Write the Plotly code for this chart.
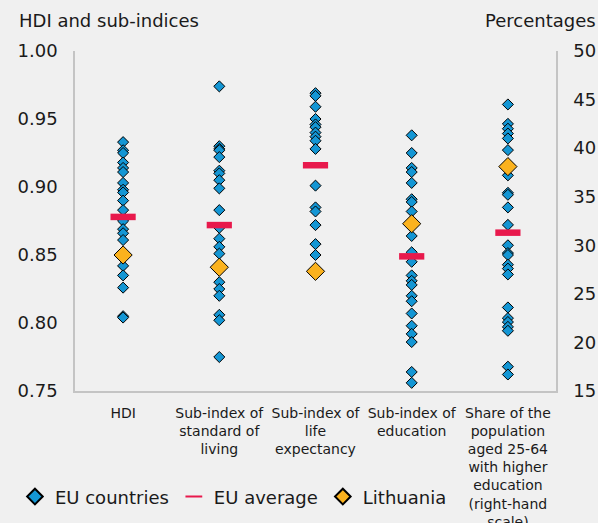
import plotly.graph_objects as go

# categories on the x axis
categories = [
    "HDI",
    "Sub-index of<br>standard of<br>living",
    "Sub-index of<br>life<br>expectancy",
    "Sub-index of<br>education",
    "Share of the<br>population<br>aged 25-64<br>with higher<br>education<br>(right-hand<br>scale)",
]

# EU countries, left-hand scale (index values)
hdi_eu = [0.933, 0.927, 0.925, 0.918, 0.914, 0.911, 0.903, 0.898, 0.896, 0.890,
          0.883, 0.875, 0.869, 0.866, 0.861, 0.850, 0.842, 0.835, 0.826, 0.805, 0.804]
living_eu = [0.974, 0.930, 0.928, 0.927, 0.922, 0.912, 0.910, 0.905, 0.899, 0.883,
             0.870, 0.862, 0.856, 0.851, 0.841, 0.830, 0.825, 0.820, 0.806, 0.802, 0.775]
life_eu = [0.969, 0.967, 0.959, 0.950, 0.946, 0.944, 0.940, 0.937, 0.934, 0.928,
           0.901, 0.885, 0.882, 0.872, 0.858, 0.850, 0.838]
education_eu = [0.938, 0.925, 0.914, 0.911, 0.903, 0.891, 0.889, 0.882, 0.873, 0.864,
                0.852, 0.845, 0.835, 0.831, 0.828, 0.820, 0.816, 0.807, 0.798, 0.792,
                0.786, 0.764, 0.756]
# EU countries, right-hand scale (percentages)
higher_edu_eu = [44.5, 42.5, 42.0, 41.5, 41.0, 39.8, 38.1, 37.2, 35.4, 35.2, 33.9, 32.1,
                 30.0, 29.2, 29.0, 28.0, 27.6, 27.0, 23.6, 22.5, 22.1, 21.6, 21.2, 17.5, 16.7]

# EU average and Lithuania
eu_avg_index = [0.878, 0.872, 0.916, 0.849]
eu_avg_share = [31.3]
lt_index = [0.850, 0.841, 0.838, 0.873]
lt_share = [38.1]

BLUE = "#1496d4"
RED = "#e8194c"
ORANGE = "#fbb21e"
FONT = "DejaVu Sans"

eu_marker = dict(symbol="diamond", size=8.5, color=BLUE, line=dict(color="black", width=1))
lt_marker = dict(symbol="diamond", size=14, color=ORANGE, line=dict(color="black", width=1))
avg_marker = dict(symbol="line-ew", size=18, line=dict(color=RED, width=6.5))

index_cols = [hdi_eu, living_eu, life_eu, education_eu]

fig = go.Figure()

# EU countries
xs, ys = [], []
for cat, vals in zip(categories[:4], index_cols):
    xs += [cat] * len(vals)
    ys += vals
fig.add_trace(go.Scatter(x=xs, y=ys, mode="markers", marker=eu_marker,
                         name="EU countries", legendgroup="eu"))
fig.add_trace(go.Scatter(x=[categories[4]] * len(higher_edu_eu), y=higher_edu_eu,
                         mode="markers", marker=eu_marker, yaxis="y2",
                         legendgroup="eu", showlegend=False))

# EU average
fig.add_trace(go.Scatter(x=categories[:4], y=eu_avg_index, mode="markers",
                         marker=avg_marker, name="EU average", legendgroup="avg"))
fig.add_trace(go.Scatter(x=categories[4:], y=eu_avg_share, mode="markers",
                         marker=avg_marker, yaxis="y2", legendgroup="avg", showlegend=False))

# Lithuania
fig.add_trace(go.Scatter(x=categories[:4], y=lt_index, mode="markers",
                         marker=lt_marker, name="Lithuania", legendgroup="lt"))
fig.add_trace(go.Scatter(x=categories[4:], y=lt_share, mode="markers",
                         marker=lt_marker, yaxis="y2", legendgroup="lt", showlegend=False))

axis_line = dict(showline=True, linecolor="#c4c4c4", linewidth=1.5, showgrid=False,
                 zeroline=False, ticks="", automargin=False)

fig.update_layout(
    width=598, height=523,
    margin=dict(l=75, r=42, t=51, b=132, autoexpand=False),
    paper_bgcolor="#f0f0f0", plot_bgcolor="#f0f0f0",
    font=dict(family=FONT, color="#1a1a1a"),
    xaxis=dict(type="category", categoryorder="array", categoryarray=categories,
               range=[-0.5, 4.5], tickfont=dict(size=14), ticklabelstandoff=8,
               **axis_line),
    yaxis=dict(range=[0.75, 1.0], tickvals=[0.75, 0.80, 0.85, 0.90, 0.95, 1.00],
               tickformat=".2f", tickfont=dict(size=18), ticklabelstandoff=12,
               **axis_line),
    yaxis2=dict(range=[15, 50], tickvals=[15, 20, 25, 30, 35, 40, 45, 50],
                overlaying="y", side="right", tickfont=dict(size=18),
                ticklabelstandoff=12, **axis_line),
    showlegend=True,
    legend=dict(orientation="h", xref="container", yref="container",
                x=0.025, xanchor="left", y=0.05, yanchor="middle",
                font=dict(size=18), bgcolor="rgba(0,0,0,0)", itemwidth=30,
                itemsizing="constant", tracegroupgap=0),
    annotations=[
        dict(text="HDI and sub-indices", xref="paper", yref="paper", x=-0.12, y=1.0,
             xanchor="left", yanchor="bottom", yshift=18, showarrow=False,
             font=dict(size=18)),
        dict(text="Percentages", xref="paper", yref="paper", x=1.0, y=1.0,
             xanchor="right", yanchor="bottom", yshift=18, xshift=42, showarrow=False,
             font=dict(size=18)),
    ],
)

# drop the browser's default page margin so the figure sits at the window corner
fig.write_html("out.html", config={"displayModeBar": False},
               post_script="document.body.style.margin='0';"
                           "document.body.style.background='#f0f0f0';")
